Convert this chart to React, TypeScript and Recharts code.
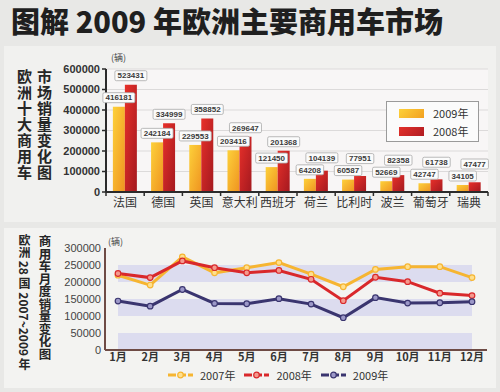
import React from 'react';
import {
  BarChart,
  Bar,
  XAxis,
  YAxis,
  CartesianGrid,
  LabelList,
  LineChart,
  Line,
  ReferenceArea,
} from 'recharts';

// ---------- Data: top chart (ten largest markets, units) ----------
const countries = ['法国', '德国', '英国', '意大利', '西班牙', '荷兰', '比利时', '波兰', '葡萄牙', '瑞典'];
const sales2009 = [416181, 242184, 229553, 203416, 121450, 64208, 60587, 52669, 42747, 34105];
const sales2008 = [523431, 334999, 358852, 269647, 201368, 104139, 77951, 82358, 61738, 47477];
const barTicks = [0, 100000, 200000, 300000, 400000, 500000, 600000];
const barSeriesNames = ['2009年', '2008年'];

// ---------- Data: bottom chart (monthly sales, EU 28) ----------
const months = ['1月', '2月', '3月', '4月', '5月', '6月', '7月', '8月', '9月', '10月', '11月', '12月'];
const monthly2007 = [220000, 191000, 274000, 227000, 242000, 257000, 223000, 186000, 237000, 245000, 245000, 213000];
const monthly2008 = [225000, 213000, 262000, 242000, 227000, 234000, 208000, 145000, 214000, 201000, 167000, 160000];
const monthly2009 = [144000, 129000, 178000, 137000, 136000, 151000, 135000, 95000, 154000, 138000, 139000, 142000];
const lineTicks = [0, 50000, 100000, 150000, 200000, 250000, 300000];
const shadedBands = [
  [0, 50000],
  [100000, 150000],
  [200000, 250000],
];
const lineSeries = [
  { key: 'y2007', name: '2007年', color: '#f6b531', dotFill: '#ffe08e' },
  { key: 'y2008', name: '2008年', color: '#d9282b', dotFill: '#f49a8e' },
  { key: 'y2009', name: '2009年', color: '#3a356f', dotFill: '#9c98c8' },
];

const barData = countries.map((c, i) => ({ name: c, y2009: sales2009[i], y2008: sales2008[i] }));
const lineData = months.map((m, i) => ({
  month: m,
  y2007: monthly2007[i],
  y2008: monthly2008[i],
  y2009: monthly2009[i],
}));

const NUM_FONT = '"Liberation Sans", Arial, sans-serif';
const CJK_FONT = '"Noto Sans CJK SC", "Noto Sans", sans-serif';

const LABEL_H = 10;

function LabelBox({ cx, bottom, value }: { cx: number; bottom: number; value: number }) {
  const txt = String(value);
  const w = txt.length * 4.5 + 5;
  return (
    <g>
      <rect
        x={cx - w / 2}
        y={bottom - LABEL_H}
        width={w}
        height={LABEL_H}
        rx={1.5}
        fill="#fbfbfb"
        stroke="#a9a9a9"
        strokeWidth={0.8}
      />
      <text
        x={cx}
        y={bottom - LABEL_H / 2}
        dy="0.35em"
        textAnchor="middle"
        fontFamily={NUM_FONT}
        fontWeight="bold"
        fontSize={8}
        fill="#3a3a3a"
      >
        {txt}
      </text>
    </g>
  );
}

const renderPairLabels = (props: any) => {
  const { x, y, width, height, value } = props;
  let index = props.index;
  if (index === undefined || index === null) index = sales2008.indexOf(Number(value));
  const v08 = sales2008[index];
  const v09 = sales2009[index];
  if (v08 === undefined) return null;
  const bx = Number(x);
  const by = Number(y);
  const bw = Number(width);
  const bh = Number(height);
  const base = by + bh;
  const top09 = base - (v09 * bh) / v08;
  const box09Bottom = top09 - 4;
  const box09Top = box09Bottom - LABEL_H;
  const box08Bottom = Math.min(by - 4, box09Top - 2);
  return (
    <g>
      <LabelBox cx={bx - bw / 2} bottom={box09Bottom} value={v09} />
      <LabelBox cx={bx + bw / 2} bottom={box08Bottom} value={v08} />
    </g>
  );
};

const CountryTick = (props: any) => {
  const { x, y, payload, index, visibleTicksCount, width } = props;
  const half =
    payload && typeof payload.offset === 'number' && payload.offset > 0
      ? payload.offset
      : Number(width) / (visibleTicksCount || 10) / 2;
  const axisY = y - 6;
  return (
    <g>
      <line x1={x - half} x2={x - half} y1={axisY} y2={axisY + 4} stroke="#2b2b2b" strokeWidth={1.5} />
      {index === (visibleTicksCount || 10) - 1 && (
        <line x1={x + half} x2={x + half} y1={axisY} y2={axisY + 4} stroke="#2b2b2b" strokeWidth={1.5} />
      )}
      <text x={x} y={y} dy="0.75em" textAnchor="middle" fontFamily={CJK_FONT} fontSize={12} fill="#333">
        {payload.value}
      </text>
    </g>
  );
};

const verticalText = (
  text: string,
  left: number,
  top: number,
  size: number,
  spacing: number
): React.ReactNode => (
  <div
    style={{
      position: 'absolute',
      left,
      top,
      writingMode: 'vertical-rl',
      textOrientation: 'mixed',
      fontFamily: CJK_FONT,
      fontWeight: 700,
      fontSize: size,
      lineHeight: `${size + 2}px`,
      letterSpacing: spacing,
      color: '#262626',
      whiteSpace: 'nowrap',
    }}
  >
    {text}
  </div>
);

export default function App() {
  return (
    <div
      style={{
        position: 'absolute',
        left: 0,
        top: 0,
        width: 500,
        height: 392,
        overflow: 'hidden',
        background: '#e8e8e6',
        fontFamily: CJK_FONT,
      }}
    >
      {/* panels */}
      <div style={{ position: 'absolute', left: 4, top: 46, width: 492, height: 176, background: '#f1f1ef' }} />
      <div style={{ position: 'absolute', left: 4, top: 228, width: 492, height: 160, background: '#f3f3f1' }} />

      {/* title */}
      <div
        style={{
          position: 'absolute',
          left: 11,
          top: 1,
          fontFamily: CJK_FONT,
          fontWeight: 900,
          fontSize: 29,
          lineHeight: '38px',
          color: '#1f1f1f',
          whiteSpace: 'nowrap',
        }}
      >
        图解 2009 年欧洲主要商用车市场
      </div>

      {/* top chart side titles */}
      {verticalText('欧洲十大商用车', 16, 69, 15, 1)}
      {verticalText('市场销量变化图', 36, 69, 15, 1)}

      {/* top chart unit */}
      <div
        style={{
          position: 'absolute',
          left: 111,
          top: 53,
          fontSize: 9,
          lineHeight: '10px',
          color: '#444',
          fontFamily: CJK_FONT,
        }}
      >
        (辆)
      </div>

      {/* top chart */}
      <div style={{ position: 'absolute', left: 0, top: 48 }}>
        <BarChart
          width={500}
          height={174}
          data={barData}
          margin={{ top: 21, right: 12, bottom: 0, left: 0 }}
          barCategoryGap="18%"
          barGap={0}
        >
          <defs>
            <linearGradient id="g2009" x1="0" y1="0" x2="1" y2="1">
              <stop offset="0%" stopColor="#fdd13a" />
              <stop offset="100%" stopColor="#ef9320" />
            </linearGradient>
            <linearGradient id="g2008" x1="0" y1="0" x2="1" y2="1">
              <stop offset="0%" stopColor="#e8302a" />
              <stop offset="100%" stopColor="#a4191f" />
            </linearGradient>
          </defs>
          <CartesianGrid vertical={false} stroke="#dcdada" fill="#f8f6f6" />
          <XAxis
            dataKey="name"
            axisLine={{ stroke: '#2b2b2b', strokeWidth: 2 }}
            tickLine={false}
            tickSize={4}
            tickMargin={2}
            height={30}
            interval={0}
            tick={<CountryTick />}
          />
          <YAxis
            width={106}
            domain={[0, 600000]}
            ticks={barTicks}
            interval={0}
            axisLine={{ stroke: '#2b2b2b', strokeWidth: 2 }}
            tickLine={{ stroke: '#2b2b2b', strokeWidth: 1.5 }}
            tickSize={4}
            tickMargin={2}
            tick={{ fontFamily: NUM_FONT, fontWeight: 'bold', fontSize: 11, fill: '#333' }}
          />
          <Bar dataKey="y2009" name={barSeriesNames[0]} fill="url(#g2009)" isAnimationActive={false} />
          <Bar dataKey="y2008" name={barSeriesNames[1]} fill="url(#g2008)" isAnimationActive={false}>
            <LabelList dataKey="y2008" content={renderPairLabels} />
          </Bar>
        </BarChart>
      </div>

      {/* top legend */}
      <div
        style={{
          position: 'absolute',
          left: 386,
          top: 101,
          width: 91,
          height: 39,
          background: '#fbfbfb',
          border: '1px solid #9a9a9a',
        }}
      >
        {barSeriesNames.map((n, i) => (
          <div
            key={n}
            style={{ position: 'absolute', left: 12, top: 6 + i * 18, height: 10, display: 'flex', alignItems: 'center' }}
          >
            <div
              style={{
                width: 25,
                height: 9,
                background:
                  i === 0 ? 'linear-gradient(135deg,#fdd13a,#f2a020)' : 'linear-gradient(135deg,#e3302a,#b01c22)',
              }}
            />
            <span style={{ marginLeft: 9, fontSize: 11, lineHeight: '10px', color: '#333', fontFamily: CJK_FONT }}>
              {n}
            </span>
          </div>
        ))}
      </div>

      {/* bottom chart side titles */}
      {verticalText('欧洲 28 国 2007~2009 年', 17, 234, 12, 0)}
      {verticalText('商用车月度销量变化图', 37, 235, 12.5, 0)}

      {/* bottom chart unit */}
      <div
        style={{
          position: 'absolute',
          left: 108,
          top: 237,
          fontSize: 9,
          lineHeight: '10px',
          color: '#444',
          fontFamily: CJK_FONT,
        }}
      >
        (辆)
      </div>

      {/* bottom chart */}
      <div style={{ position: 'absolute', left: 0, top: 230 }}>
        <LineChart width={500} height={140} data={lineData} margin={{ top: 18, right: 13, bottom: 0, left: 0 }}>
          {shadedBands.map((b, i) => (
            <ReferenceArea
              key={i}
              y1={b[0]}
              y2={b[1]}
              fill="#dcdcef"
              fillOpacity={1}
              stroke="none"
              ifOverflow="hidden"
            />
          ))}
          <XAxis
            dataKey="month"
            padding={{ left: 13, right: 15 }}
            axisLine={{ stroke: '#6e4b45', strokeWidth: 2 }}
            tickLine={false}
            tickSize={0}
            tickMargin={3}
            height={20}
            interval={0}
            tick={{ fontFamily: CJK_FONT, fontWeight: 'bold', fontSize: 11, fill: '#333' }}
          />
          <YAxis
            width={105}
            domain={[0, 300000]}
            ticks={lineTicks}
            interval={0}
            axisLine={{ stroke: '#6e4b45', strokeWidth: 2 }}
            tickLine={false}
            tickSize={0}
            tickMargin={4}
            tick={{ fontFamily: NUM_FONT, fontSize: 11, fill: '#444' }}
          />
          {lineSeries.map((s) => (
            <Line
              key={s.key}
              type="linear"
              dataKey={s.key}
              name={s.name}
              stroke={s.color}
              strokeWidth={3}
              dot={{ r: 2.8, fill: s.dotFill, stroke: s.color, strokeWidth: 1.2 }}
              isAnimationActive={false}
            />
          ))}
        </LineChart>
      </div>

      {/* bottom legend */}
      <div style={{ position: 'absolute', left: 168, top: 369, display: 'flex', alignItems: 'center' }}>
        {lineSeries.map((s, i) => (
          <div key={s.key} style={{ display: 'flex', alignItems: 'center', marginLeft: i === 0 ? 0 : 9 }}>
            <svg width={25} height={10}>
              <line x1={0} x2={25} y1={5} y2={5} stroke={s.color} strokeWidth={3} strokeDasharray="8 2" />
              <circle cx={12.5} cy={5} r={2.8} fill={s.dotFill} stroke={s.color} strokeWidth={1.2} />
            </svg>
            <span style={{ marginLeft: 7, fontSize: 11, lineHeight: '12px', color: '#333', fontFamily: CJK_FONT }}>
              {s.name}
            </span>
          </div>
        ))}
      </div>
    </div>
  );
}
